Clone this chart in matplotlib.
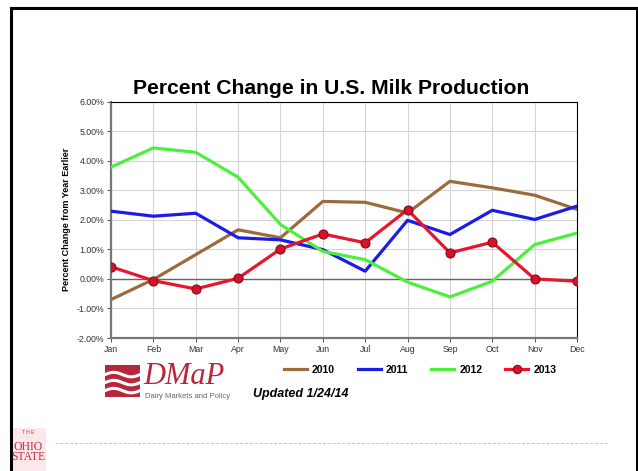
import numpy as np
import matplotlib.pyplot as plt
from matplotlib.patches import Rectangle
from matplotlib.lines import Line2D

plt.rcParams['font.family'] = ['Liberation Sans', 'DejaVu Sans']

months = ['Jan', 'Feb', 'Mar', 'Apr', 'May', 'Jun', 'Jul', 'Aug', 'Sep', 'Oct', 'Nov', 'Dec']
y2010 = [-0.70, -0.02, 0.82, 1.66, 1.39, 2.62, 2.59, 2.23, 3.30, 3.08, 2.83, 2.35]
y2011 = [2.29, 2.12, 2.22, 1.39, 1.32, 0.99, 0.26, 1.98, 1.50, 2.32, 2.01, 2.46]
y2012 = [3.78, 4.43, 4.28, 3.44, 1.84, 0.93, 0.65, -0.11, -0.61, -0.08, 1.16, 1.55]
y2013 = [0.41, -0.06, -0.34, 0.02, 1.01, 1.52, 1.22, 2.34, 0.88, 1.24, 0.00, -0.08]
yticks = [-2, -1, 0, 1, 2, 3, 4, 5, 6]

W, H = 638, 471
fig = plt.figure(figsize=(W / 100, H / 100), dpi=100)

def fx(px):
    return px / W

def fy(py):
    return 1 - py / H

# slide border
fig.add_artist(Line2D([fx(10.5), fx(10.5)], [0, fy(7.5)], color='black', lw=2.2))
fig.add_artist(Line2D([fx(10.5), fx(637)], [fy(7.5), fy(7.5)], color='black', lw=2.2))
fig.add_artist(Line2D([fx(637), fx(637)], [0, fy(7.5)], color='black', lw=2.2))

ax = fig.add_axes([fx(111), fy(338), fx(577) - fx(111), fy(101.5) - fy(338)])
x = np.arange(len(months))

ax.plot(x, y2010, color='#9c6b3c', lw=2.3, zorder=3)
ax.plot(x, y2011, color='#1c1ce8', lw=2.3, zorder=3)
ax.plot(x, y2012, color='#4cf03c', lw=2.3, zorder=3)
ax.plot(x, y2013, color='#e8152d', lw=2.3, zorder=4, marker='o', ms=6.5,
        mfc='#d8102a', mec='#7a1020', mew=0.8)

ax.set_xlim(0, 11)
ax.set_ylim(-2, 6)
ax.set_xticks(x)
ax.set_xticklabels(months)
ax.set_yticks(yticks)
ax.set_yticklabels(['%.2f%%' % v for v in yticks])
ax.tick_params(labelsize=6.3, colors='#333333', length=3, width=0.6, pad=2)
ax.grid(True, color='#d4d4d4', lw=0.8, zorder=0)
ax.axhline(0, color='#666666', lw=1.0, zorder=2)
for s in ['left', 'bottom']:
    ax.spines[s].set_color('#777777')
    ax.spines[s].set_linewidth(1.6)
for s in ['top', 'right']:
    ax.spines[s].set_color('black')
    ax.spines[s].set_linewidth(0.8)
ax.set_ylabel('Percent Change from Year Earlier', fontsize=6.5, fontweight='bold', labelpad=4)

fig.text(fx(331), fy(89), 'Percent Change in U.S. Milk Production', fontsize=15.2,
         fontweight='bold', ha='center', va='center')

# legend
handles = [Line2D([], [], color='#9c6b3c', lw=2.3),
           Line2D([], [], color='#1c1ce8', lw=2.3),
           Line2D([], [], color='#4cf03c', lw=2.3),
           Line2D([], [], color='#e8152d', lw=2.3, marker='o', ms=6,
                  mfc='#d8102a', mec='#7a1020', mew=0.8)]
leg = fig.legend(handles, ['2010', '2011', '2012', '2013'], ncol=4, frameon=False,
                 loc='center', bbox_to_anchor=(fx(420), fy(370)),
                 prop={'weight': 'bold', 'size': 7.5}, handlelength=2.2,
                 columnspacing=2.2, handletextpad=0.5)

# DMaP logo
fig.add_artist(Rectangle((fx(105), fy(397)), fx(140) - fx(105), fy(365) - fy(397),
                         transform=fig.transFigure, color='#b8283c', lw=0))
t = np.linspace(0, 1, 30)
for off in [0.2, 0.45, 0.7]:
    xs = fx(105) + t * (fx(140) - fx(105))
    ys = fy(397) + (off + 0.07 * np.sin(t * 2 * np.pi)) * (fy(365) - fy(397))
    fig.add_artist(Line2D(xs, ys, color='white', lw=2.2))
fig.text(fx(143), fy(376), 'DMaP', fontsize=22, family='Liberation Serif', style='italic',
         color='#b8283c', va='center', ha='left')
fig.text(fx(145), fy(397), 'Dairy Markets and Policy', fontsize=5.5, color='#666666',
         va='center', ha='left')
fig.text(fx(253), fy(394), 'Updated 1/24/14', fontsize=9, fontweight='bold', style='italic',
         va='center', ha='left')

# Ohio State mark and footer line
fig.add_artist(Rectangle((fx(11), 0), fx(46) - fx(11), fy(428), transform=fig.transFigure,
                         color='#fbe8ea', lw=0))
fig.text(fx(28.5), fy(432), 'T H E', fontsize=3.5, color='#c8283c', ha='center', va='center')
fig.text(fx(28.5), fy(452), 'OHIO\nSTATE', fontsize=8.5, family='Liberation Serif',
         color='#c8283c', ha='center', va='center', linespacing=0.85)
fig.add_artist(Line2D([fx(55), fx(607)], [fy(443), fy(443)], color='#b8c8d8', lw=0.7,
                      ls=(0, (3, 2))))

fig.savefig('out.png', dpi=100)
